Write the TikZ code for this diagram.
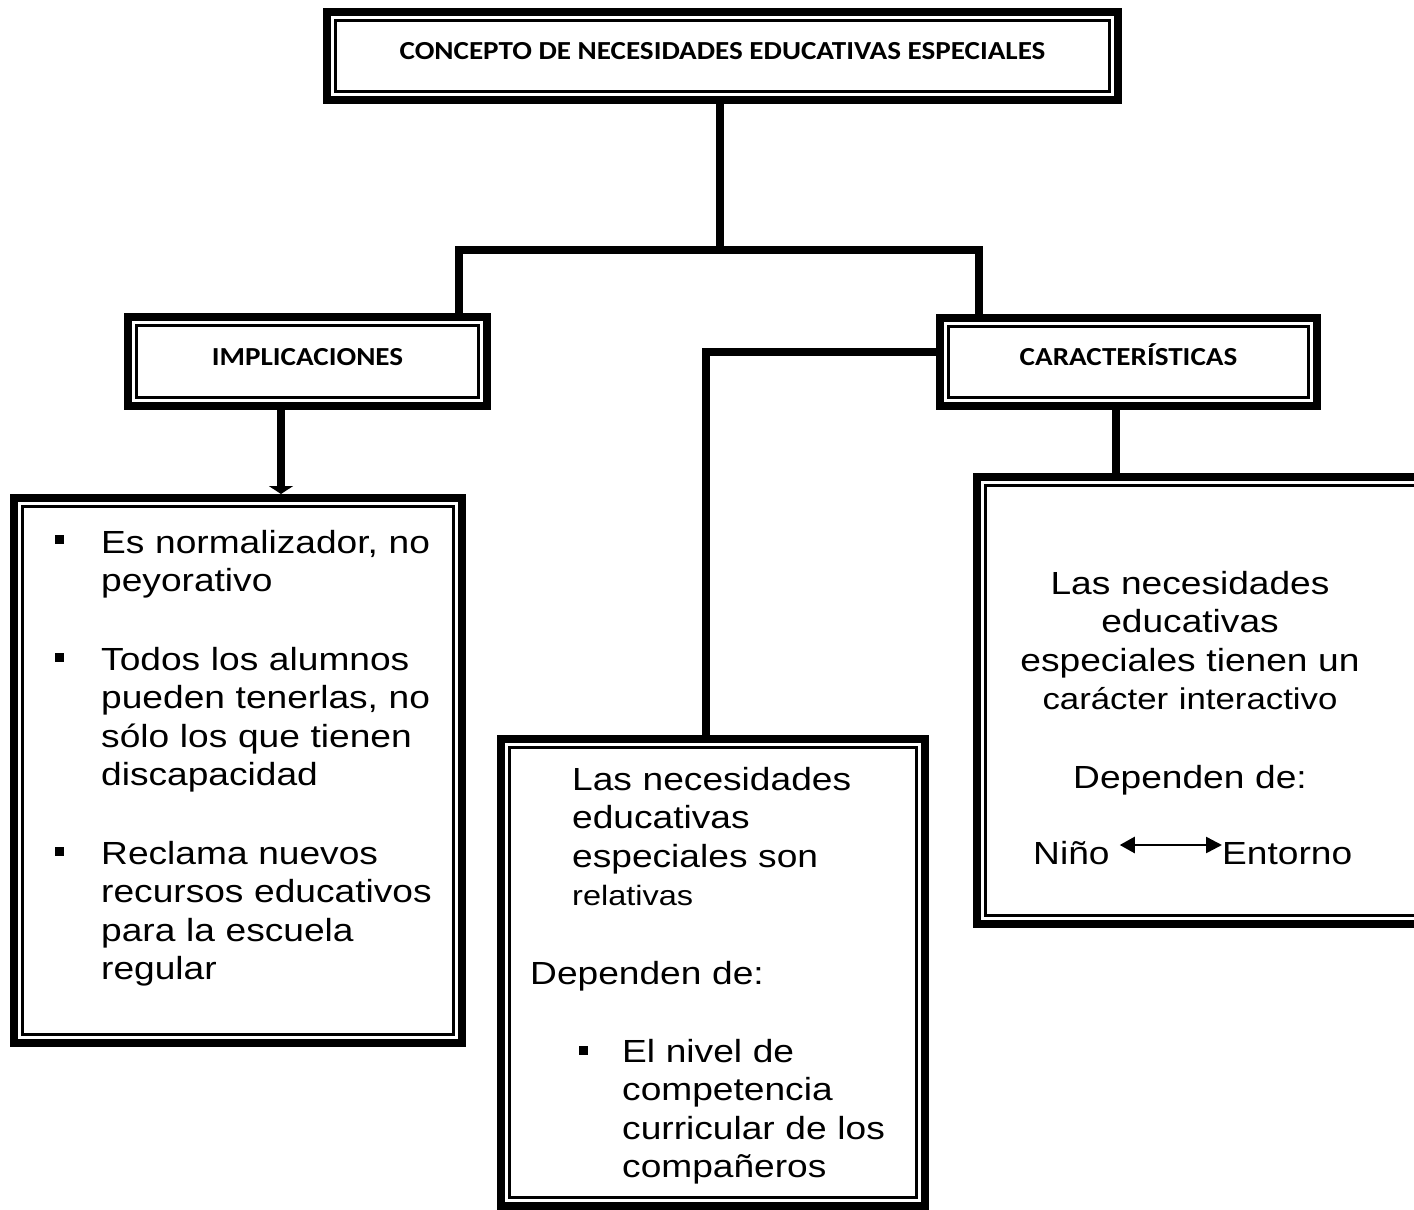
\documentclass[tikz,border=0pt]{standalone}
\usepackage{fontspec}
\newfontfamily\bodyfont{Liberation Sans}[FakeStretch=1.16]
\newfontfamily\headfont{Carlito}[FakeStretch=1.12]
\usetikzlibrary{positioning, arrows.meta}
\tikzset{
  framebox/.style={draw=black, line width=8pt, inner sep=0pt,
    path picture={\draw[line width=2.5pt] ([shift={(8.5pt,-8.5pt)}]path picture bounding box.north west) rectangle ([shift={(-8.5pt,8.5pt)}]path picture bounding box.south east);}},
  headbox/.style={framebox, text height=18pt, text depth=11pt, font=\headfont\bfseries\fontsize{26}{30}\selectfont},
  bodytext/.style={text=black, inner sep=0pt, align=left, text width=380pt, anchor=base west, font=\bodyfont\fontsize{32}{38.5}\selectfont},
  plaintext/.style={text=black, inner sep=0pt, anchor=base west, font=\bodyfont\fontsize{32}{38.5}\selectfont},
  sqbullet/.style={fill=black, minimum size=9pt, inner sep=0pt},
  link/.style={draw=black, line width=8pt}
}

\begin{document}
\begin{tikzpicture}[x=1pt, y=-1pt]
  \path[fill=white] (0,0) rectangle (1414,1210);
  \useasboundingbox (0,0) rectangle (1414,1210);
  % Nodes
  \node (concepto) [headbox, minimum width=791pt, minimum height=88pt] at (722.5,56) {CONCEPTO DE NECESIDADES EDUCATIVAS ESPECIALES};
  \node (impl) [headbox, below=209pt of concepto, xshift=-415pt, minimum width=359pt, minimum height=89pt] {IMPLICACIONES};
  \node (carac) [headbox, below=210pt of concepto, xshift=406pt, minimum width=377pt, minimum height=88pt] {CARACTERÍSTICAS};
  \node (implbox) [framebox, below=84pt of impl, xshift=-69.5pt, minimum width=448pt, minimum height=545pt] {};
  \node (relbox) [framebox, below=325pt of carac, xshift=-415.5pt, minimum width=424pt, minimum height=467pt] {};
  \node (interbox) [framebox, below=63pt of carac, xshift=72pt, minimum width=447pt, minimum height=447pt] {};

  % Implicaciones
  \node (dot1) [sqbullet] at (59,539) {};
  \node (imp1) [bodytext] at (101,553) {Es normalizador, no\\peyorativo};
  \node (dot2) [sqbullet] at (59,657) {};
  \node (imp2) [bodytext] at (101,670) {Todos los alumnos\\pueden tenerlas, no\\sólo los que tienen\\discapacidad};
  \node (dot3) [sqbullet] at (59,851) {};
  \node (imp3) [bodytext] at (101,864) {Reclama nuevos\\recursos educativos\\para la escuela\\regular};

  % Relativas
  \node (rel1) [bodytext] at (572,790) {Las necesidades\\educativas\\especiales son\\{\fontsize{28}{38.5}\selectfont relativas}};
  \node (rel2) [bodytext] at (530,984) {Dependen de:};
  \node (dot4) [sqbullet] at (583,1050) {};
  \node (rel3) [bodytext] at (622,1062) {El nivel de\\competencia\\curricular de los\\compañeros};

  % Interactivo
  \node (int1) [bodytext, anchor=base, align=center, text width=420pt] at (1190,594) {Las necesidades\\educativas\\especiales tienen un\\{\fontsize{30}{38.5}\selectfont carácter interactivo}};
  \node (int2) [bodytext, anchor=base, align=center, text width=420pt] at (1190,788) {Dependen de:};
  \node (nino) [plaintext] at (1033,864) {Niño};
  \node (entorno) [plaintext] at (1222,864) {Entorno};

  % Connectors
  \coordinate (hub) at (720,250);
  \draw[link] (concepto.south -| hub) -- (hub);
  \draw[link] ([xshift=151.5pt]impl.north) |- (hub) -| ([xshift=-149.5pt]carac.north);
  \draw[link] ([yshift=10pt]carac.west) -| ([xshift=-7pt]relbox.north);
  \draw[link, -{Triangle[length=8pt, width=24pt]}] ([xshift=-26.5pt]impl.south) -- ([xshift=-26.5pt]impl.south |- implbox.north);
  \draw[link] ([xshift=-12.5pt]carac.south) -- ([xshift=-12.5pt]carac.south |- interbox.north);
  \draw[line width=2.5pt, {Triangle[length=15pt, width=16pt]}-{Triangle[length=16pt, width=16pt]}] ([shift={(10pt,19pt)}]nino.base east) -- ([yshift=19pt]entorno.base west);
\end{tikzpicture}
\end{document}
